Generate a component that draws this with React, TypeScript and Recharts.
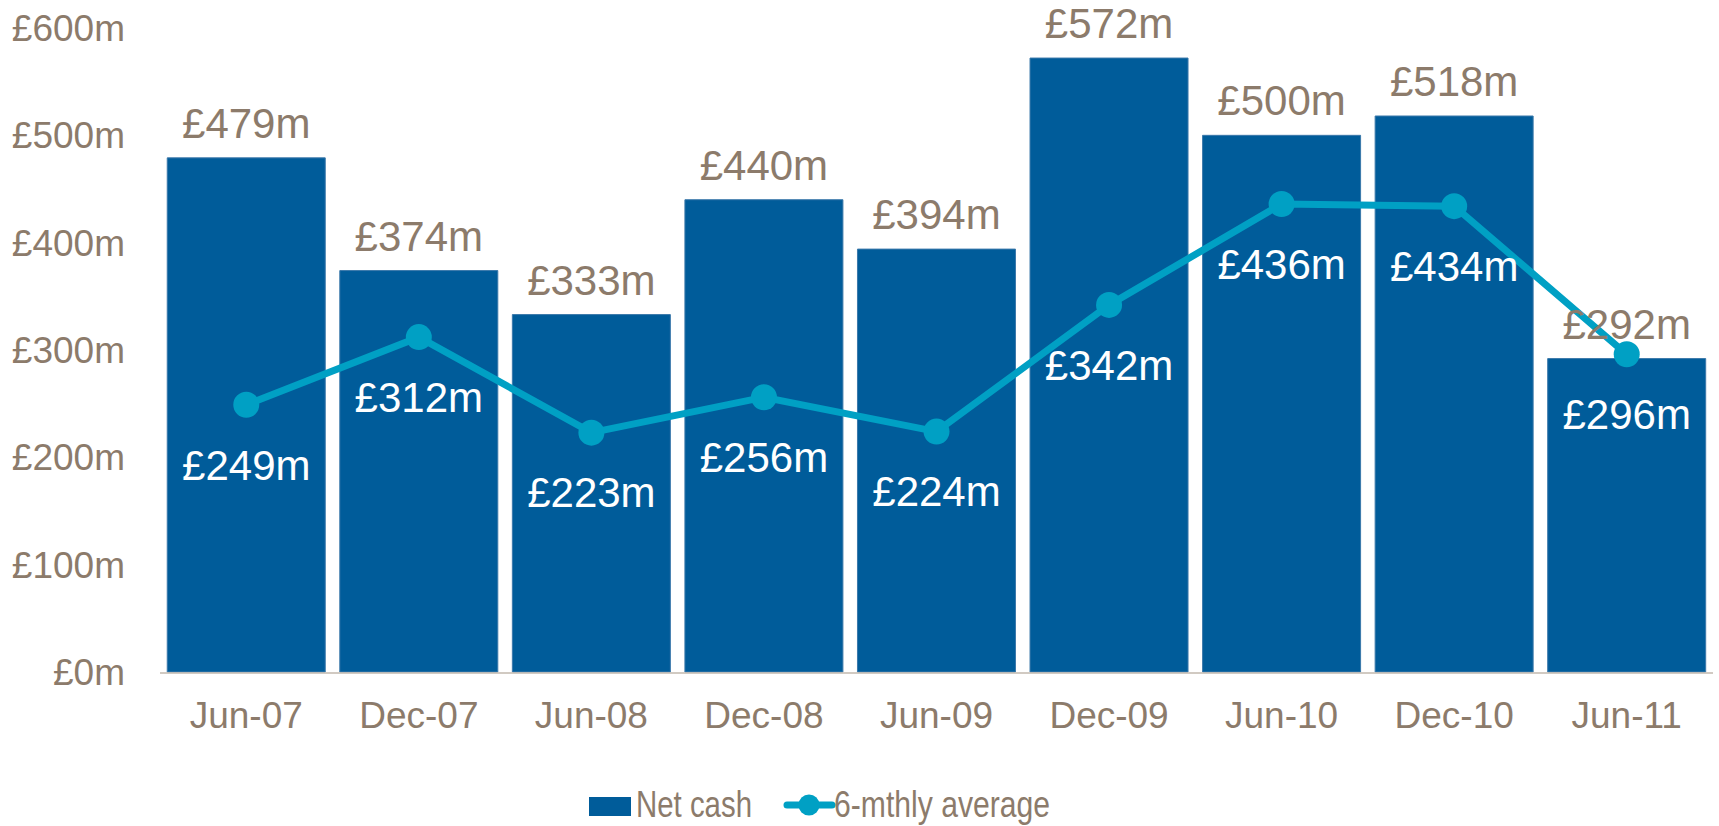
import { ComposedChart, Bar, Line, XAxis, YAxis, LabelList, Legend } from 'recharts'

const periods = ['Jun-07', 'Dec-07', 'Jun-08', 'Dec-08', 'Jun-09', 'Dec-09', 'Jun-10', 'Dec-10', 'Jun-11']
const netCash = [479, 374, 333, 440, 394, 572, 500, 518, 292]
const sixMonthAvg = [249, 312, 223, 256, 224, 342, 436, 434, 296]
const yTicks = [0, 100, 200, 300, 400, 500, 600]

const data = periods.map((period, i) => ({
  period,
  net: netCash[i],
  avg: sixMonthAvg[i],
}))

// tick marks sit between categories, not under them
const boundaryTicks = periods.map((_, i) => i).concat(periods.length)

const BAR = '#005C9A'
const LINE = '#00A0C4'
const TEXT = '#8C7B6B'
const AXIS = '#C2B9AE'
const FONT = '"Liberation Sans", Arial, sans-serif'

const money = (v: number) => `£${v}m`

const ChartLegend = () => (
  <svg width={1719} height={46} style={{ display: 'block', fontFamily: FONT }}>
    <rect x={589} y={17} width={42} height={19} fill={BAR} />
    <text x={636} y={37} fontSize={37} fill={TEXT} textLength={116} lengthAdjust="spacingAndGlyphs">
      Net cash
    </text>
    <line x1={787} y1={25} x2={832} y2={25} stroke={LINE} strokeWidth={7} strokeLinecap="round" />
    <circle cx={809} cy={25} r={10.5} fill={LINE} />
    <text x={834} y={37} fontSize={37} fill={TEXT} textLength={216} lengthAdjust="spacingAndGlyphs">
      6-mthly average
    </text>
  </svg>
)

export default function App() {
  return (
    <div style={{ position: 'absolute', left: 0, top: 0, fontFamily: FONT }}>
      <ComposedChart
        width={1719}
        height={826}
        data={data}
        margin={{ top: 28, right: 6, left: 0, bottom: 152 }}
        barCategoryGap="4.2%"
      >
        <XAxis
          dataKey="period"
          height={1}
          tickLine={false}
          axisLine={false}
          tickSize={0}
          tickMargin={30}
          tick={{ fontSize: 37, fill: TEXT, fontFamily: FONT }}
          interval={0}
        />
        <XAxis
          xAxisId="bounds"
          type="number"
          domain={[0, periods.length]}
          ticks={boundaryTicks}
          height={1}
          tick={false}
          tickSize={12}
          tickLine={{ stroke: AXIS, strokeWidth: 1.5 }}
          axisLine={{ stroke: AXIS, strokeWidth: 1.5 }}
        />
        <YAxis
          width={160}
          domain={[0, 600]}
          ticks={yTicks}
          tickFormatter={money}
          axisLine={false}
          tickLine={false}
          tickSize={0}
          tickMargin={35}
          tick={{ fontSize: 37, fill: TEXT, fontFamily: FONT }}
        />
        <Legend
          layout="horizontal"
          verticalAlign="middle"
          align="center"
          wrapperStyle={{ left: 0, top: 780, width: 1719 }}
          content={<ChartLegend />}
        />
        <Bar dataKey="net" name="Net cash" fill={BAR} stroke="#3A78AA" strokeWidth={1} isAnimationActive={false}>
          <LabelList
            dataKey="net"
            position="top"
            offset={20}
            formatter={(v: any) => money(v)}
            style={{ fontSize: 42, fill: TEXT, fontFamily: FONT }}
          />
        </Bar>
        <Line
          dataKey="avg"
          name="6-mthly average"
          stroke={LINE}
          strokeWidth={7}
          dot={{ r: 13, fill: LINE, stroke: 'none' }}
          activeDot={false}
          isAnimationActive={false}
        >
          <LabelList
            dataKey="avg"
            position="bottom"
            offset={45}
            formatter={(v: any) => money(v)}
            style={{ fontSize: 42, fill: '#FFFFFF', fontFamily: FONT }}
          />
        </Line>
      </ComposedChart>
    </div>
  )
}
